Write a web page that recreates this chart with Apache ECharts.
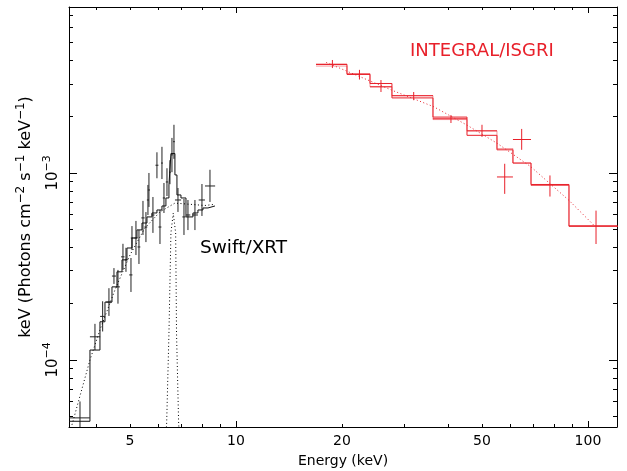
<!DOCTYPE html>
<html><head><meta charset="utf-8">
<script src="https://cdn.jsdelivr.net/npm/echarts@6/dist/echarts.min.js"></script>
<style>html,body{margin:0;padding:0;background:#fff}#c{width:627px;height:471px}</style>
</head><body><div id="c"></div>
<script>
// ---- axis ranges and ticks ----
const xMin = 3.355, xMax = 120.9;
const yMin = 4.38e-5, yMax = 7.72e-3;
const xMajorTicks = [10, 100];
const xMinorTicks = [4, 5, 6, 7, 8, 9, 20, 30, 40, 50, 60, 70, 80, 90];
const xTickLabelValues = [5, 10, 20, 50, 100];
const xTickLabels = ['5', '10', '20', '50', '100'];
const yMajorTicks = [1e-4, 1e-3];
const yMinorTicks = [5e-5, 6e-5, 7e-5, 8e-5, 9e-5, 2e-4, 3e-4, 4e-4, 5e-4, 6e-4, 7e-4, 8e-4, 9e-4, 2e-3, 3e-3, 4e-3, 5e-3, 6e-3, 7e-3];
const yTickLabelValues = [1e-4, 1e-3];
const yTickLabels = ['{b|10}{s|−4}', '{b|10}{s|−3}'];

// ---- Swift/XRT data (keV, keV Photons cm^-2 s^-1 keV^-1) ----
const swiftE    = [3.605, 3.976, 4.181, 4.357, 4.502, 4.622, 4.775, 4.870, 5.032, 5.065, 5.199, 5.302, 5.443, 5.550, 5.623, 5.660, 5.810, 5.964, 6.083, 6.163, 6.244, 6.368, 6.493, 6.579, 6.666, 6.843, 7.117, 7.305, 7.647, 8.006, 8.437];
const swiftElo  = [3.355, 3.847, 4.112, 4.278, 4.443, 4.563, 4.716, 4.831, 4.974, 5.026, 5.141, 5.254, 5.385, 5.492, 5.584, 5.621, 5.752, 5.906, 6.025, 6.125, 6.197, 6.320, 6.455, 6.541, 6.627, 6.710, 7.041, 7.211, 7.515, 7.837, 8.166];
const swiftEhi  = [3.844, 4.114, 4.240, 4.435, 4.561, 4.681, 4.824, 4.928, 5.081, 5.114, 5.257, 5.350, 5.501, 5.598, 5.662, 5.699, 5.868, 6.022, 6.141, 6.201, 6.291, 6.416, 6.531, 6.617, 6.705, 6.985, 7.193, 7.418, 7.798, 8.165, 8.726];
const swiftF    = [4.9e-5, 1.33e-4, 1.71e-4, 2.04e-4, 2.81e-4, 2.46e-4, 3.56e-4, 3.43e-4, 2.85e-4, 4.49e-4, 4.49e-4, 4.02e-4, 5.75e-4, 5.14e-4, 7.17e-4, 8.11e-4, 5.96e-4, 1.10e-3, 5.14e-4, 1.13e-3, 7.35e-4, 8.95e-4, 1.01e-3, 1.25e-3, 1.47e-3, 7.17e-4, 5.82e-4, 5.96e-4, 5.96e-4, 7.17e-4, 8.52e-4];
const swiftFlo  = [4.0e-5, 1.13e-4, 1.42e-4, 1.72e-4, 2.55e-4, 2.00e-4, 3.03e-4, 2.96e-4, 2.31e-4, 3.87e-4, 3.64e-4, 3.26e-4, 4.66e-4, 4.27e-4, 5.96e-4, 6.58e-4, 4.78e-4, 9.37e-4, 4.17e-4, 9.28e-4, 6.11e-4, 7.53e-4, 8.71e-4, 1.01e-3, 1.19e-3, 6.19e-4, 4.66e-4, 4.95e-4, 4.95e-4, 5.89e-4, 7.00e-4];
const swiftFhi  = [6.0e-5, 1.56e-4, 2.06e-4, 2.42e-4, 3.10e-4, 3.03e-4, 4.18e-4, 3.98e-4, 3.51e-4, 5.20e-4, 5.54e-4, 4.96e-4, 7.09e-4, 6.18e-4, 8.63e-4, 1.00e-3, 7.44e-4, 1.29e-3, 6.34e-4, 1.38e-3, 8.84e-4, 1.06e-3, 1.17e-3, 1.54e-3, 1.81e-3, 8.31e-4, 7.26e-4, 7.17e-4, 7.17e-4, 8.73e-4, 1.04e-3];
// folded model histogram: bin edges and values
const swiftModelEdges = [3.355, 3.848, 4.108, 4.245, 4.444, 4.592, 4.745, 4.902, 5.065, 5.233, 5.408, 5.587, 5.772, 5.964, 6.163, 6.325, 6.451, 6.535, 6.708, 6.797, 6.978, 7.211, 7.547, 7.798, 8.058, 8.326, 8.716];
const swiftModelFlux  = [4.70e-5, 1.13e-4, 1.60e-4, 2.04e-4, 2.46e-4, 2.96e-4, 3.43e-4, 3.97e-4, 4.49e-4, 4.96e-4, 5.40e-4, 5.82e-4, 6.11e-4, 6.34e-4, 6.66e-4, 7.35e-4, 8.63e-4, 1.27e-3, 9.76e-4, 7.63e-4, 7.35e-4, 5.82e-4, 6.11e-4, 6.34e-4, 6.50e-4, 6.66e-4];
// model components (dotted)
const swiftContE = [3.421, 3.848, 4.108, 4.532, 4.999, 5.514, 6.083, 6.708, 7.402, 8.164, 8.716];
const swiftContF = [4.5e-5, 1.0e-4, 1.45e-4, 2.37e-4, 3.64e-4, 5.08e-4, 6.19e-4, 6.9e-4, 6.8e-4, 6.7e-4, 6.8e-4];
const ironLineE = [6.325, 6.355, 6.451, 6.535, 6.635, 6.740, 6.779, 6.873, 6.900];
const ironLineF = [4.0e-5, 4.6e-5, 1.39e-4, 4.78e-4, 6.1e-4, 4.78e-4, 1.39e-4, 4.6e-5, 4.0e-5];

// ---- INTEGRAL/ISGRI data ----
const isgriEdges = [16.88, 20.67, 24.03, 27.74, 36.28, 45.32, 55.14, 61.21, 68.89, 88.31, 124.1];
const isgriE   = [18.79, 22.43, 25.82, 31.98, 40.81, 49.99, 58.00, 64.81, 77.98, 105.4];
const isgriF   = [3.81e-3, 3.37e-3, 2.89e-3, 2.59e-3, 1.95e-3, 1.68e-3, 9.52e-4, 1.51e-3, 8.63e-4, 5.21e-4];
const isgriFlo = [3.64e-3, 3.16e-3, 2.71e-3, 2.45e-3, 1.85e-3, 1.56e-3, 7.73e-4, 1.33e-3, 7.48e-4, 4.17e-4];
const isgriFhi = [4.02e-3, 3.56e-3, 3.14e-3, 2.71e-3, 2.04e-3, 1.81e-3, 1.12e-3, 1.72e-3, 9.70e-4, 6.29e-4];
const isgriModelA = [3.81e-3, 3.37e-3, 3.01e-3, 2.52e-3, 1.99e-3, 1.59e-3, 1.33e-3, 1.13e-3, 8.68e-4, 5.19e-4];
const isgriModelB = [3.73e-3, 3.40e-3, 2.89e-3, 2.59e-3, 1.93e-3, 1.68e-3, 1.35e-3, 1.13e-3, 8.57e-4, 5.20e-4];
const isgriCurveE = [18.05, 27.74, 36.47, 45.37, 55.24, 68.80, 88.42, 104.2];
const isgriCurveF = [3.9e-3, 2.77e-3, 2.26e-3, 1.80e-3, 1.44e-3, 1.08e-3, 7.12e-4, 5.23e-4];

// ---- build ----
const FONT = 'DejaVu Sans';
const RED = '#e8202a';
const lg = Math.log10;
function nearest(v, vals, labels) {
  let b = 0;
  for (let i = 1; i < vals.length; i++) if (Math.abs(lg(vals[i]) - v) < Math.abs(lg(vals[b]) - v)) b = i;
  return labels[b];
}
function stepData(edges, vals) {
  return edges.map((e, i) => [e, vals[Math.min(i, vals.length - 1)]]);
}
function pairs(xs, ys) { return xs.map((x, i) => [x, ys[i]]); }

const swiftPts = swiftE.map((e, i) => [e, swiftF[i], swiftElo[i], swiftEhi[i], swiftFlo[i], swiftFhi[i]]);
const isgriPts = isgriE.map((e, i) => [e, isgriF[i], isgriEdges[i], isgriEdges[i + 1], isgriFlo[i], isgriFhi[i]]);

function crossRender(color) {
  return function (params, api) {
    const e = api.value(0), f = api.value(1);
    const a = api.coord([api.value(2), f]), b = api.coord([api.value(3), f]);
    const c = api.coord([e, api.value(4)]), d = api.coord([e, api.value(5)]);
    const st = { stroke: color, lineWidth: 1 };
    return { type: 'group', children: [
      { type: 'line', shape: { x1: a[0], y1: a[1], x2: b[0], y2: b[1] }, style: st },
      { type: 'line', shape: { x1: c[0], y1: c[1], x2: d[0], y2: d[1] }, style: st }
    ] };
  };
}

const lxMin = lg(xMin), lxMax = lg(xMax), lyMin = lg(yMin), lyMax = lg(yMax);
const lineBlack = { color: '#000', width: 1 };
const supRich = {
  b: { fontSize: 15, lineHeight: 22, fontFamily: FONT, color: '#000' },
  s: { fontSize: 11, lineHeight: 11, verticalAlign: 'top', fontFamily: FONT, color: '#000' }
};
const nameRich = {
  b: { fontSize: 16, lineHeight: 23, fontFamily: FONT, color: '#000' },
  s: { fontSize: 12, lineHeight: 12, verticalAlign: 'top', fontFamily: FONT, color: '#000' }
};

function xTickAxis(pos, ticks, len, withLine, withLabels) {
  const ax = {
    type: 'value', position: pos, min: lxMin, max: lxMax, gridIndex: 0,
    axisLine: { show: withLine, onZero: false, lineStyle: lineBlack },
    axisTick: { show: true, inside: true, length: len, customValues: ticks.map(lg), lineStyle: lineBlack },
    axisLabel: { show: false },
    splitLine: { show: false }
  };
  if (withLabels) {
    ax.axisLabel = { show: true, customValues: xTickLabelValues.map(lg), margin: 7,
      formatter: v => nearest(v, xTickLabelValues, xTickLabels),
      color: '#000', fontSize: 14, fontFamily: FONT };
    ax.name = 'Energy (keV)';
    ax.nameLocation = 'middle';
    ax.nameGap = 27;
    ax.nameTextStyle = { color: '#000', fontSize: 14, fontFamily: FONT };
  }
  return ax;
}
function yTickAxis(pos, ticks, len, withLine, withLabels) {
  const ax = {
    type: 'value', position: pos, min: lyMin, max: lyMax, gridIndex: 0,
    axisLine: { show: withLine, onZero: false, lineStyle: lineBlack },
    axisTick: { show: true, inside: true, length: len, customValues: ticks.map(lg), lineStyle: lineBlack },
    axisLabel: { show: false },
    splitLine: { show: false }
  };
  if (withLabels) {
    ax.axisLabel = { show: true, customValues: yTickLabelValues.map(lg), rotate: 90, margin: 5,
      formatter: v => nearest(v, yTickLabelValues, yTickLabels),
      rich: supRich };
    ax.name = '{b|keV (Photons cm}{s|−2}{b| s}{s|−1}{b| keV}{s|−1}{b|)}';
    ax.nameLocation = 'middle';
    ax.nameRotate = 90;
    ax.nameGap = 31;
    ax.nameTextStyle = { rich: nameRich };
  }
  return ax;
}

const option = {
  animation: false,
  backgroundColor: '#fff',
  grid: { left: 69, right: 10, top: 7, bottom: 44, containLabel: false, outerBoundsMode: 'none' },
  xAxis: [
    { type: 'log', logBase: 10, min: xMin, max: xMax, show: false, gridIndex: 0 },
    xTickAxis('bottom', xMajorTicks, 6, true, true),
    xTickAxis('bottom', xMinorTicks, 3, false, false),
    xTickAxis('top', xMajorTicks, 6, true, false),
    xTickAxis('top', xMinorTicks, 3, false, false)
  ],
  yAxis: [
    { type: 'log', logBase: 10, min: yMin, max: yMax, show: false, gridIndex: 0 },
    yTickAxis('left', yMajorTicks, 8, true, true),
    yTickAxis('left', yMinorTicks, 4, false, false),
    yTickAxis('right', yMajorTicks, 8, true, false),
    yTickAxis('right', yMinorTicks, 4, false, false)
  ],
  graphic: [
    { type: 'text', left: 200, top: 239, style: { text: 'Swift/XRT', fill: '#000', fontSize: 18.5, fontFamily: FONT } },
    { type: 'text', left: 410, top: 42, style: { text: 'INTEGRAL/ISGRI', fill: RED, fontSize: 18, fontFamily: FONT } }
  ],
  series: [
    { type: 'line', xAxisIndex: 0, yAxisIndex: 0, data: pairs(swiftContE, swiftContF), showSymbol: false, clip: true,
      lineStyle: { color: '#000', width: 1, type: [1, 2.5] } },
    { type: 'line', xAxisIndex: 0, yAxisIndex: 0, data: pairs(ironLineE, ironLineF), showSymbol: false, clip: true,
      lineStyle: { color: '#000', width: 1, type: [1, 2.5] } },
    { type: 'line', xAxisIndex: 0, yAxisIndex: 0, data: stepData(swiftModelEdges, swiftModelFlux), step: 'end', showSymbol: false, clip: true,
      lineStyle: { color: '#111', width: 1 } },
    { type: 'custom', xAxisIndex: 0, yAxisIndex: 0, data: swiftPts, renderItem: crossRender('#222'), clip: true },
    { type: 'line', xAxisIndex: 0, yAxisIndex: 0, data: stepData(isgriEdges, isgriModelB), step: 'end', showSymbol: false, clip: true,
      lineStyle: { color: 'rgba(232,32,42,0.45)', width: 1 } },
    { type: 'line', xAxisIndex: 0, yAxisIndex: 0, data: stepData(isgriEdges, isgriModelA), step: 'end', showSymbol: false, clip: true,
      lineStyle: { color: RED, width: 1 } },
    { type: 'line', xAxisIndex: 0, yAxisIndex: 0, data: pairs(isgriCurveE, isgriCurveF), showSymbol: false, clip: true,
      lineStyle: { color: RED, width: 1, type: [1, 2.5] } },
    { type: 'custom', xAxisIndex: 0, yAxisIndex: 0, data: isgriPts, renderItem: crossRender(RED), clip: true }
  ]
};
const chart = echarts.init(document.getElementById('c'), null, { renderer: 'canvas' });
chart.setOption(option);
</script>
</body></html>
